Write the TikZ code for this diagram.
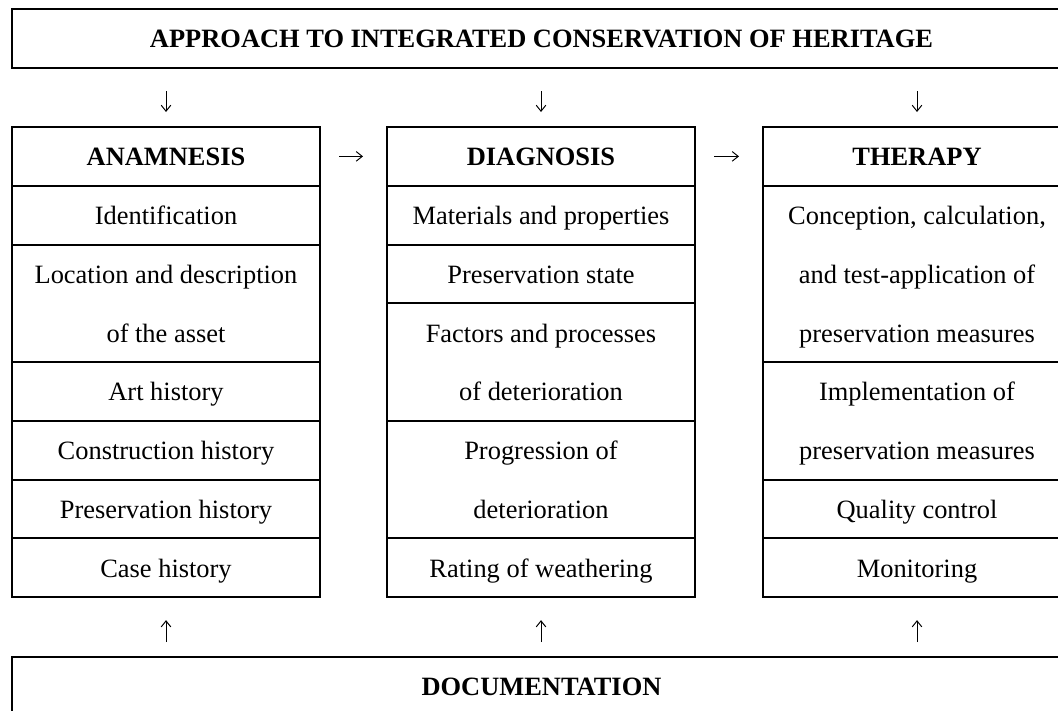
\documentclass[tikz,border=0pt]{standalone}
\usepackage{fontspec}
\setmainfont{Liberation Serif}
\usetikzlibrary{arrows.meta, positioning}
\newcommand{\cellstrut}{\rule[-14.2pt]{0pt}{41.8pt}}
\tikzset{
  box/.style={
    rectangle, draw=black, fill=white, line width=1.4pt,
    outer sep=0pt, inner sep=0pt, align=center,
    font=\fontsize{18.8pt}{41.8pt}\selectfont,
    execute at end node=\cellstrut
  },
  widebox/.style={box, font=\fontsize{18.8pt}{41.8pt}\selectfont\bfseries,
                  minimum width=26.475cm, minimum height=1.475cm},
  headbox/.style={box, font=\fontsize{18.8pt}{41.8pt}\selectfont\bfseries,
                  minimum width=7.7cm, minimum height=1.469cm},
  cell/.style={box, minimum width=7.7cm, minimum height=#1*1.469cm},
  cell/.default=1,
  arrow/.style={-{Straight Barb[length=1.5mm,width=2.4mm]}, line width=0.7pt, draw=black},
}

\begin{document}
\begin{tikzpicture}[node distance=0pt]
  \clip (0,0) rectangle (26.45,-17.75);
  \fill[white] (0,0) rectangle (26.45,-17.75);

  \node[widebox, anchor=north west] (approach) at (0.3,-0.225)
    {APPROACH TO INTEGRATED CONSERVATION OF HERITAGE};

  % anamnesis
  \node[headbox, anchor=north west] (anam) at (0.3,-3.175) {ANAMNESIS};
  \node[cell, below=of anam] (a1) {Identification};
  \node[cell=2, below=of a1] (a2) {\cellstrut Location and description\\of the asset};
  \node[cell, below=of a2] (a3) {Art history};
  \node[cell, below=of a3] (a4) {Construction history};
  \node[cell, below=of a4] (a5) {Preservation history};
  \node[cell, below=of a5] (a6) {Case history};

  % diagnosis
  \node[headbox, anchor=north west] (diag) at (9.675,-3.175) {DIAGNOSIS};
  \node[cell, below=of diag] (d1) {Materials and properties};
  \node[cell, below=of d1] (d2) {Preservation state};
  \node[cell=2, below=of d2] (d3) {\cellstrut Factors and processes\\of deterioration};
  \node[cell=2, below=of d3] (d4) {\cellstrut Progression of\\deterioration};
  \node[cell, below=of d4] (d5) {Rating of weathering};

  % therapy
  \node[headbox, anchor=north west] (ther) at (19.075,-3.175) {THERAPY};
  \node[cell=3, below=of ther] (t1)
    {\cellstrut Conception, calculation,\\and test-application of\\preservation measures};
  \node[cell=2, below=of t1] (t2) {\cellstrut Implementation of\\preservation measures};
  \node[cell, below=of t2] (t3) {Quality control};
  \node[cell, below=of t3] (t4) {Monitoring};

  \node[widebox, anchor=north west] (docu) at (0.3,-16.425) {DOCUMENTATION};

  \foreach \col in {anam, diag, ther}
    \draw[arrow, shorten <=0.575cm, shorten >=0.375cm] (approach.south -| \col.north) -- (\col.north);
  \foreach \last in {a6, d5, t4}
    \draw[arrow, shorten <=0.375cm, shorten >=0.575cm] (docu.north -| \last.south) -- (\last.south);
  \foreach \from/\to in {anam/diag, diag/ther}
    \draw[arrow, shorten <=0.475cm, shorten >=0.6cm] (\from) -- (\to);
\end{tikzpicture}
\end{document}
